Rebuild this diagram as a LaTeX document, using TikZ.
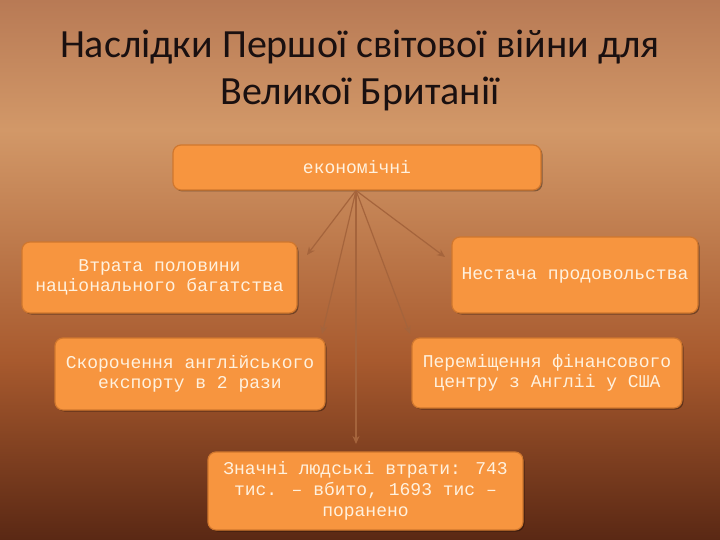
\documentclass[tikz,border=0pt]{standalone}
\usepackage{fontspec}
\setmainfont{Carlito}
\newfontfamily\boxfont{Liberation Mono}
\usetikzlibrary{arrows.meta,shadows}
\definecolor{bgA}{HTML}{B87A55}
\definecolor{bgB}{HTML}{D29868}
\definecolor{bgC}{HTML}{A85A2E}
\definecolor{bgD}{HTML}{5A2814}
\definecolor{boxfill}{HTML}{F7953F}
\definecolor{boxline}{HTML}{D0772E}
\definecolor{boxtext}{HTML}{FFF1DE}
\definecolor{arrowcol}{HTML}{A5643C}
\definecolor{titlecol}{HTML}{1A1010}
\tikzset{
  infobox/.style={draw=boxline, line width=1.2pt, fill=boxfill, rounded corners=8pt,
    align=center, text=boxtext, font=\boxfont\fontsize{18}{20}\selectfont, inner sep=0pt,
    drop shadow={shadow xshift=1.5pt, shadow yshift=-1.5pt, opacity=0.35, fill=black}},
  conn/.style={draw=arrowcol, line width=1.2pt, -{Stealth[length=8pt,width=7pt]}},
  titletext/.style={text=titlecol, font=\fontsize{40}{47}\selectfont, anchor=base, inner sep=0pt}
}
\begin{document}
\begin{tikzpicture}[x=1pt,y=-1pt]
\useasboundingbox (0,0) rectangle (720,540);
\shade[top color=bgA, bottom color=bgB] (0,0) rectangle (720,130);
\shade[top color=bgB, bottom color=bgC] (0,130) rectangle (720,360);
\shade[top color=bgC, bottom color=bgD] (0,360) rectangle (720,540);
\node[titletext] (title1) at (360,58) {Наслідки Першої світової війни для};
\node[titletext] (title2) at (360,105) {Великої Британії};
\node[infobox, minimum width=368pt, minimum height=45pt] (econ) at (357,167.5) {економічні};
\node[infobox, minimum width=275pt, minimum height=71pt] (b1) at (159.5,277.5) {Втрата половини\\національного багатства};
\node[infobox, minimum width=246pt, minimum height=76pt] (b2) at (575,275) {Нестача продовольства};
\node[infobox, minimum width=270pt, minimum height=72pt] (b3) at (190,374) {Скорочення англійського\\експорту в 2 рази};
\node[infobox, minimum width=270pt, minimum height=70pt] (b4) at (547,373) {Переміщення фінансового\\центру з Англіі у США};
\node[infobox, minimum width=315pt, minimum height=78pt, font=\boxfont\fontsize{18}{21}\selectfont] (b5) at (365.5,491) {Значні людські втрати: 743\\тис. – вбито, 1693 тис –\\поранено};
\coordinate (src) at (356,190.5);
\coordinate (t1) at (307,255);
\coordinate (t2) at (445,257);
\coordinate (t3) at (322,334);
\coordinate (t4) at (410,334);
\coordinate (t5) at (356,444);
\draw[conn] (src) -- (t1);
\draw[conn] (src) -- (t2);
\draw[conn] (src) -- (t3);
\draw[conn] (src) -- (t4);
\draw[conn] (src) -- (t5);
\end{tikzpicture}
\end{document}
